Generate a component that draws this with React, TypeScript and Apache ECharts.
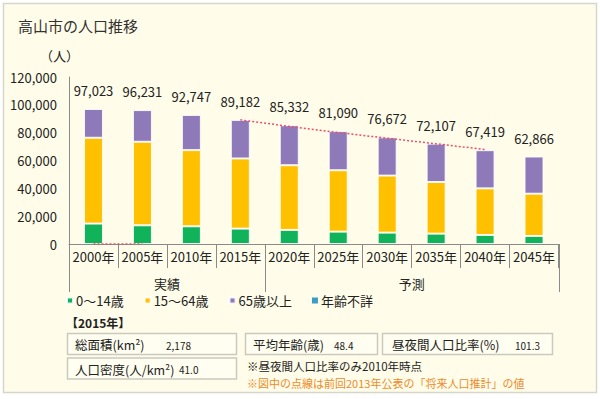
import React, { useEffect, useRef } from "react";
import * as echarts from "echarts";

const categories = ["2000年", "2005年", "2010年", "2015年", "2020年", "2025年", "2030年", "2035年", "2040年", "2045年"];
const age0to14 = [14680, 13450, 12720, 11060, 10120, 8890, 8170, 7450, 6510, 5780];
const age15to64 = [61670, 60010, 54740, 50400, 46480, 44110, 40990, 37090, 33470, 30370];
const age65plus = [20670, 22770, 25290, 27720, 28730, 28090, 27510, 27570, 27440, 26720];
const ageUnknown = [0, 0, 0, 0, 0, 0, 0, 0, 0, 0];
const totals = [97023, 96231, 92747, 89182, 85332, 81090, 76672, 72107, 67419, 62866];
const previous2013 = [0, 0, null, 89200, 84500, 80100, 76000, 72000, 67900, null];
const groupLabels = ["実績", "予測"];
const groupSizes = [4, 6];
const seriesNames = ["0～14歳", "15～64歳", "65歳以上", "年齢不詳"];
const yTicks = [0, 20000, 40000, 60000, 80000, 100000, 120000];
const infoLabels = ["総面積(km²)", "人口密度(人/km²)", "平均年齢(歳)", "昼夜間人口比率(%)"];
const infoValues = ["2,178", "41.0", "48.4", "101.3"];

const FONT = "'Noto Sans CJK JP', 'Noto Sans', sans-serif";
const TXT = "#222";

export default function App() {
  const ref = useRef<HTMLDivElement>(null);
  useEffect(() => {
    document.body.style.margin = "0";
    const chart = echarts.init(ref.current!, null, { renderer: "svg" });
    const barItem = (color: string) => ({ color, borderColor: "rgba(255,255,255,0.85)", borderWidth: 1 });
    chart.setOption({
      animation: false,
      backgroundColor: "#ffffff",
      textStyle: { fontFamily: FONT, color: TXT },
      title: {
        text: "高山市の人口推移",
        left: 13,
        top: 13,
        textStyle: { fontSize: 15, fontWeight: "normal", color: "#333", fontFamily: FONT },
      },
      legend: {
        data: seriesNames,
        left: 66,
        top: 294,
        padding: 0,
        icon: "rect",
        itemWidth: 6,
        itemHeight: 6,
        itemGap: 20,
        textStyle: { fontSize: 13, color: TXT, fontFamily: FONT, padding: [0, 0, 0, -2] },
      },
      grid: { left: 69, right: 41.5, top: 77, bottom: 155, containLabel: false },
      xAxis: {
        type: "category",
        data: categories,
        axisLine: { lineStyle: { color: "#8a8a8a", width: 1 } },
        axisTick: { show: true, interval: 0, length: 24, lineStyle: { color: "#8a8a8a" } },
        axisLabel: { fontSize: 13, color: TXT, margin: 6, interval: 0, fontFamily: FONT },
      },
      yAxis: {
        type: "value",
        min: yTicks[0],
        max: yTicks[yTicks.length - 1],
        interval: 20000,
        axisLine: { show: true, lineStyle: { color: "#8a8a8a" } },
        axisTick: { show: false },
        splitLine: { show: false },
        axisLabel: {
          fontSize: 13,
          color: TXT,
          margin: 12,
          fontFamily: FONT,
          formatter: (v: number) => v.toLocaleString("en-US"),
        },
      },
      series: [
        { name: seriesNames[0], type: "bar", stack: "pop", barWidth: 19, data: age0to14, itemStyle: barItem("#10b25a") },
        { name: seriesNames[1], type: "bar", stack: "pop", data: age15to64, itemStyle: barItem("#ffc000") },
        {
          name: seriesNames[2],
          type: "bar",
          stack: "pop",
          data: age65plus,
          itemStyle: barItem("#8f7ab9"),
          label: {
            show: true,
            position: "top",
            distance: 12,
            fontSize: 13,
            color: TXT,
            fontFamily: FONT,
            formatter: (p: any) => totals[p.dataIndex].toLocaleString("en-US"),
          },
        },
        { name: seriesNames[3], type: "bar", stack: "pop", data: ageUnknown, itemStyle: { color: "#3b9cc4" } },
        {
          name: "前回推計",
          type: "line",
          data: previous2013,
          symbol: "none",
          connectNulls: false,
          z: 5,
          lineStyle: { color: "#e8506a", width: 1.5, type: [2, 2] },
        },
      ],
    });

    const xc = (i: number) => chart.convertToPixel({ xAxisIndex: 0 }, categories[i]) as number;
    const band = xc(1) - xc(0);
    const left0 = xc(0) - band / 2;
    const y0 = chart.convertToPixel({ yAxisIndex: 0 }, 0) as number;
    const longEnd = y0 + 48;
    const bounds: number[] = [0];
    groupSizes.forEach((s) => bounds.push(bounds[bounds.length - 1] + s));
    const graphics: any[] = [
      {
        type: "rect",
        z: -10,
        shape: { x: 3.5, y: 3.5, width: 593, height: 389 },
        style: { fill: "#fffde9", stroke: "#d6d6cc", lineWidth: 1.5 },
      },
      {
        type: "text",
        x: 40,
        y: 55,
        style: { text: "（人）", fontSize: 13, fill: TXT, fontFamily: FONT, textVerticalAlign: "middle" },
      },
    ];
    bounds.forEach((b) => {
      const x = Math.round(left0 + b * band) + 0.5;
      graphics.push({
        type: "line",
        shape: { x1: x, y1: y0, x2: x, y2: longEnd },
        style: { stroke: "#8a8a8a", lineWidth: 1 },
      });
    });
    groupLabels.forEach((g, i) => {
      const cx = left0 + ((bounds[i] + bounds[i + 1]) / 2) * band;
      graphics.push({
        type: "text",
        x: cx,
        y: 283,
        style: { text: g, fontSize: 13, fill: TXT, fontFamily: FONT, textAlign: "center", textVerticalAlign: "middle" },
      });
    });
    graphics.push({
      type: "text",
      x: 66,
      y: 322,
      style: { text: "【2015年】", fontSize: 12, fill: TXT, fontFamily: FONT, fontWeight: "bold", textVerticalAlign: "middle" },
    });
    const boxes = [
      { x: 67, y: 333, w: 169, h: 21, lx: 75, vx: 166 },
      { x: 67, y: 357.5, w: 169, h: 21, lx: 75, vx: 179 },
      { x: 245, y: 333, w: 132, h: 21, lx: 253, vx: 334 },
      { x: 382, y: 333, w: 170, h: 21, lx: 392, vx: 515 },
    ];
    boxes.forEach((b, i) => {
      graphics.push({
        type: "rect",
        shape: { x: b.x + 0.5, y: b.y + 0.5, width: b.w, height: b.h },
        style: { fill: "#fffef0", stroke: "#c9c9c0", lineWidth: 1.5 },
      });
      graphics.push({
        type: "text",
        x: b.lx,
        y: b.y + b.h / 2 + 1,
        style: { text: infoLabels[i], fontSize: 12.5, fill: TXT, fontFamily: FONT, textVerticalAlign: "middle" },
      });
      graphics.push({
        type: "text",
        x: b.vx,
        y: b.y + b.h / 2 + 1.5,
        style: { text: infoValues[i], fontSize: 10, fill: TXT, fontFamily: FONT, textVerticalAlign: "middle" },
      });
    });
    graphics.push({
      type: "text",
      x: 247,
      y: 366,
      style: { text: "※昼夜間人口比率のみ2010年時点", fontSize: 11.5, fill: TXT, fontFamily: FONT, textVerticalAlign: "middle" },
    });
    graphics.push({
      type: "text",
      x: 247,
      y: 383,
      style: {
        text: "※図中の点線は前回2013年公表の「将来人口推計」の値",
        fontSize: 11,
        fill: "#ee8a2a",
        fontFamily: FONT,
        textVerticalAlign: "middle",
      },
    });
    chart.setOption({ graphic: graphics });
    return () => chart.dispose();
  }, []);
  return <div ref={ref} style={{ position: "fixed", left: 0, top: 0, width: 600, height: 399 }} />;
}
